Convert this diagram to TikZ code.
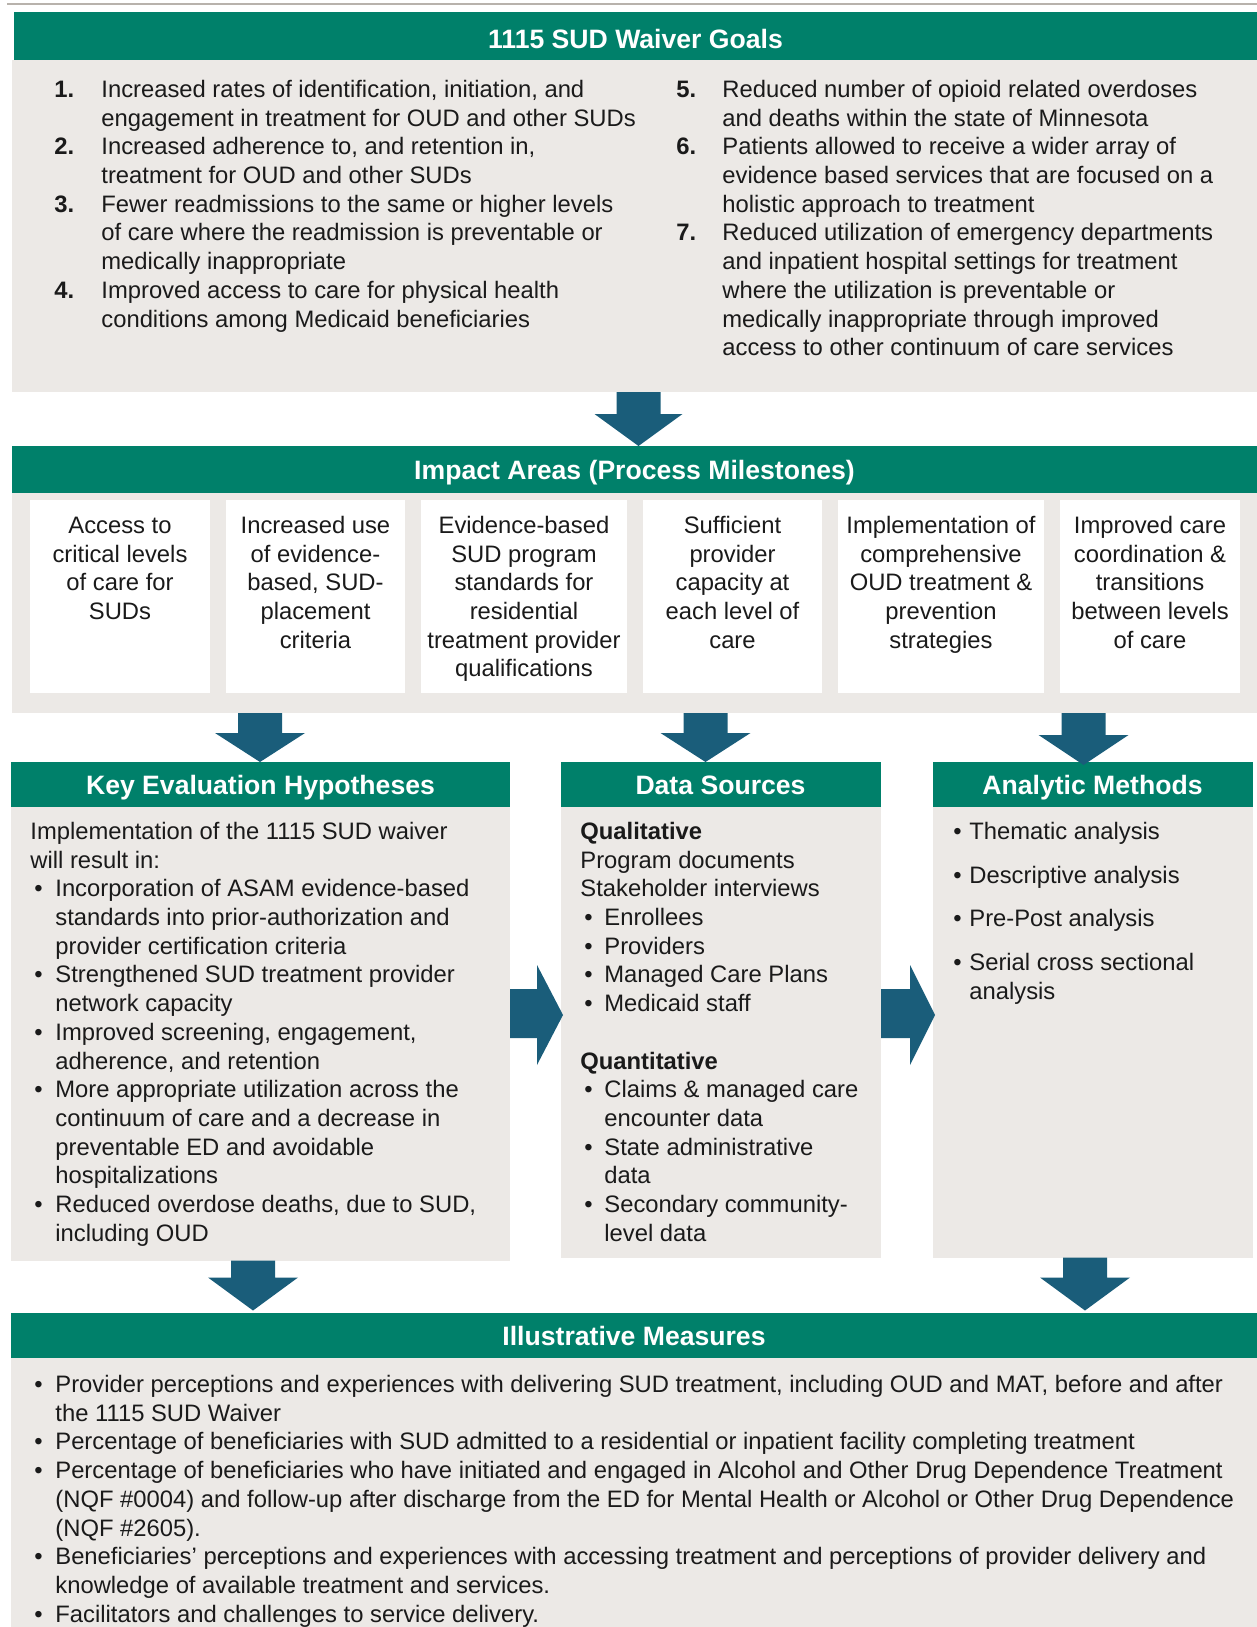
\documentclass[tikz,border=0pt]{standalone}
\usepackage{fontspec}
\setmainfont{Liberation Sans}
\usepackage{array}
\usepackage{tikz}
\usetikzlibrary{calc}

\definecolor{headGreen}{RGB}{0,128,106}
\definecolor{bodyGray}{RGB}{236,233,230}
\definecolor{flowBlue}{RGB}{26,93,122}
\definecolor{ruleGray}{RGB}{184,178,172}
\definecolor{ink}{RGB}{26,26,26}

\begin{document}
\begin{tikzpicture}[
	x=0.5pt, y=-0.5pt,
	head/.style={fill=headGreen},
	body/.style={fill=bodyGray},
	cell/.style={fill=white},
	flow/.style={fill=flowBlue},
	title/.style={text=white, inner sep=0, text height=9.5pt, text depth=0pt, font=\fontsize{13.3}{16}\selectfont\bfseries},
	txt/.style={text=ink, inner sep=0, anchor=north west, font=\fontsize{11.9}{14.35}\selectfont},
	cellTxt/.style={txt, anchor=north}
	]

	\useasboundingbox (0,0) rectangle (1257,1627);
	\draw[ruleGray, line width=1pt] (7,4) -- (1257,4);

	% Waiver goals
	\fill[head] (14,12) rectangle (1257,60);
	\fill[body] (12,60) rectangle (1257,392);
	\node[title] (goals) at (635.5,39) {1115 SUD Waiver Goals};
	\node[txt] (goalsL) at (54,77) {\begin{tabular}[t]{@{}>{\bfseries}p{23.5pt}@{}l@{}}
		1. & Increased rates of identification, initiation, and\\
		   & engagement in treatment for OUD and other SUDs\\
		2. & Increased adherence to, and retention in,\\
		   & treatment for OUD and other SUDs\\
		3. & Fewer readmissions to the same or higher levels\\
		   & of care where the readmission is preventable or\\
		   & medically inappropriate\\
		4. & Improved access to care for physical health\\
		   & conditions among Medicaid beneficiaries
		\end{tabular}};
	\node[txt] (goalsR) at (676,77) {\begin{tabular}[t]{@{}>{\bfseries}p{23pt}@{}l@{}}
		5. & Reduced number of opioid related overdoses\\
		   & and deaths within the state of Minnesota\\
		6. & Patients allowed to receive a wider array of\\
		   & evidence based services that are focused on a\\
		   & holistic approach to treatment\\
		7. & Reduced utilization of emergency departments\\
		   & and inpatient hospital settings for treatment\\
		   & where the utilization is preventable or\\
		   & medically inappropriate through improved\\
		   & access to other continuum of care services
		\end{tabular}};

	% Impact areas
	\fill[head] (12,446) rectangle (1257,493);
	\fill[body] (12,493) rectangle (1257,713);
	\node[title] (impact) at (634.5,470) {Impact Areas (Process Milestones)};
	\fill[cell] (30,500) rectangle (210,693);
	\fill[cell] (226,500) rectangle (405,693);
	\fill[cell] (421,500) rectangle (627,693);
	\fill[cell] (643,500) rectangle (822,693);
	\fill[cell] (838,500) rectangle (1044,693);
	\fill[cell] (1060,500) rectangle (1240,693);
	\node[cellTxt] (area1) at (120,513) {\begin{tabular}[t]{@{}c@{}}
		Access to\\ critical levels\\ of care for\\ SUDs\end{tabular}};
	\node[cellTxt] (area2) at (315.5,513) {\begin{tabular}[t]{@{}c@{}}
		Increased use\\ of evidence-\\ based, SUD-\\ placement\\ criteria\end{tabular}};
	\node[cellTxt] (area3) at (524,513) {\begin{tabular}[t]{@{}c@{}}
		Evidence-based\\ SUD program\\ standards for\\ residential\\ treatment provider\\ qualifications\end{tabular}};
	\node[cellTxt] (area4) at (732.5,513) {\begin{tabular}[t]{@{}c@{}}
		Sufficient\\ provider\\ capacity at\\ each level of\\ care\end{tabular}};
	\node[cellTxt] (area5) at (941,513) {\begin{tabular}[t]{@{}c@{}}
		Implementation of\\ comprehensive\\ OUD treatment \&\\ prevention\\ strategies\end{tabular}};
	\node[cellTxt] (area6) at (1150,513) {\begin{tabular}[t]{@{}c@{}}
		Improved care\\ coordination \&\\ transitions\\ between levels\\ of care\end{tabular}};

	% Hypotheses, data sources, methods
	\fill[head] (11,762) rectangle (510,806.5);
	\fill[body] (11,806.5) rectangle (510,1260.5);
	\fill[head] (560.5,762) rectangle (881,806.5);
	\fill[body] (560.5,806.5) rectangle (881,1257.5);
	\fill[head] (932.5,762) rectangle (1253,806.5);
	\fill[body] (932.5,806.5) rectangle (1253,1257.5);
	\node[title] (hyp) at (260.5,785) {Key Evaluation Hypotheses};
	\node[title] (sources) at (720.5,785) {Data Sources};
	\node[title] (methods) at (1092.5,785) {Analytic Methods};

	\node[txt] (hypList) at (30,819) {\begin{tabular}[t]{@{\hspace{2pt}}p{10.5pt}@{}l@{}}
		\multicolumn{2}{@{}l@{}}{Implementation of the 1115 SUD waiver}\\
		\multicolumn{2}{@{}l@{}}{will result in:}\\
		\textbullet & Incorporation of ASAM evidence-based\\
		            & standards into prior-authorization and\\
		            & provider certification criteria\\
		\textbullet & Strengthened SUD treatment provider\\
		            & network capacity\\
		\textbullet & Improved screening, engagement,\\
		            & adherence, and retention\\
		\textbullet & More appropriate utilization across the\\
		            & continuum of care and a decrease in\\
		            & preventable ED and avoidable\\
		            & hospitalizations\\
		\textbullet & Reduced overdose deaths, due to SUD,\\
		            & including OUD
		\end{tabular}};
	\node[txt] (sourceList) at (580,819) {\begin{tabular}[t]{@{\hspace{2pt}}p{10pt}@{}l@{}}
		\multicolumn{2}{@{}l@{}}{\bfseries Qualitative}\\
		\multicolumn{2}{@{}l@{}}{Program documents}\\
		\multicolumn{2}{@{}l@{}}{Stakeholder interviews}\\
		\textbullet & Enrollees\\
		\textbullet & Providers\\
		\textbullet & Managed Care Plans\\
		\textbullet & Medicaid staff\\
		\multicolumn{2}{@{}l@{}}{}\\
		\multicolumn{2}{@{}l@{}}{\bfseries Quantitative}\\
		\textbullet & Claims \& managed care\\
		            & encounter data\\
		\textbullet & State administrative\\
		            & data\\
		\textbullet & Secondary community-\\
		            & level data
		\end{tabular}};
	\node[txt] (methodList) at (953,819) {\begin{tabular}[t]{@{}p{8pt}@{}l@{}}
		\textbullet & Thematic analysis\\[7.5pt]
		\textbullet & Descriptive analysis\\[7.5pt]
		\textbullet & Pre-Post analysis\\[7.5pt]
		\textbullet & Serial cross sectional\\
		            & analysis
		\end{tabular}};

	% Illustrative measures
	\fill[head] (11,1313) rectangle (1257,1358);
	\fill[body] (11,1358) rectangle (1257,1627);
	\node[title] (measures) at (634,1336) {Illustrative Measures};
	\node[txt] (measureList) at (34,1372) {\begin{tabular}[t]{@{}p{10.5pt}@{}l@{}}
		\textbullet & Provider perceptions and experiences with delivering SUD treatment, including OUD and MAT, before and after\\
		            & the 1115 SUD Waiver\\
		\textbullet & Percentage of beneficiaries with SUD admitted to a residential or inpatient facility completing treatment\\
		\textbullet & Percentage of beneficiaries who have initiated and engaged in Alcohol and Other Drug Dependence Treatment\\
		            & (NQF \#0004) and follow-up after discharge from the ED for Mental Health or Alcohol or Other Drug Dependence\\
		            & (NQF \#2605).\\
		\textbullet & Beneficiaries’ perceptions and experiences with accessing treatment and perceptions of provider delivery and\\
		            & knowledge of available treatment and services.\\
		\textbullet & Facilitators and challenges to service delivery.
		\end{tabular}};

	% Flow arrows
	\coordinate (g2i) at (638.5,392);
	\coordinate (i2h) at (260,713);
	\coordinate (i2s) at (705.5,713);
	\coordinate (i2m) at (1083.5,713);
	\coordinate (h2x) at (253,1260.5);
	\coordinate (m2x) at (1085,1257.5);
	\coordinate (h2s) at (510,989);
	\coordinate (s2m) at (881,989);

	\fill[flow] (g2i) ++(-22,0) -- ++(44,0) -- ++(0,22) -- ++(22,0) -- ++(-44,32) -- ++(-44,-32) -- ++(22,0) -- cycle;
	\fill[flow] (i2h) ++(-22,0) -- ++(44,0) -- ++(0,20) -- ++(23,0) -- ++(-45,29) -- ++(-45,-29) -- ++(23,0) -- cycle;
	\fill[flow] (i2s) ++(-22,0) -- ++(44,0) -- ++(0,20) -- ++(23,0) -- ++(-45,29) -- ++(-45,-29) -- ++(23,0) -- cycle;
	\fill[flow] (i2m) ++(-22,0) -- ++(44,0) -- ++(0,22) -- ++(23,0) -- ++(-45,30) -- ++(-45,-30) -- ++(23,0) -- cycle;
	\fill[flow] (h2x) ++(-22,0) -- ++(44,0) -- ++(0,17) -- ++(23,0) -- ++(-45,33) -- ++(-45,-33) -- ++(23,0) -- cycle;
	\fill[flow] (m2x) ++(-22,0) -- ++(44,0) -- ++(0,20) -- ++(23,0) -- ++(-45,33) -- ++(-45,-33) -- ++(23,0) -- cycle;
	\fill[flow] (h2s) -- ++(27,0) -- ++(0,-24) -- ++(26,50) -- ++(-26,50) -- ++(0,-27) -- ++(-27,0) -- cycle;
	\fill[flow] (s2m) -- ++(29,0) -- ++(0,-24) -- ++(25,50) -- ++(-25,50) -- ++(0,-27) -- ++(-29,0) -- cycle;
\end{tikzpicture}
\end{document}
